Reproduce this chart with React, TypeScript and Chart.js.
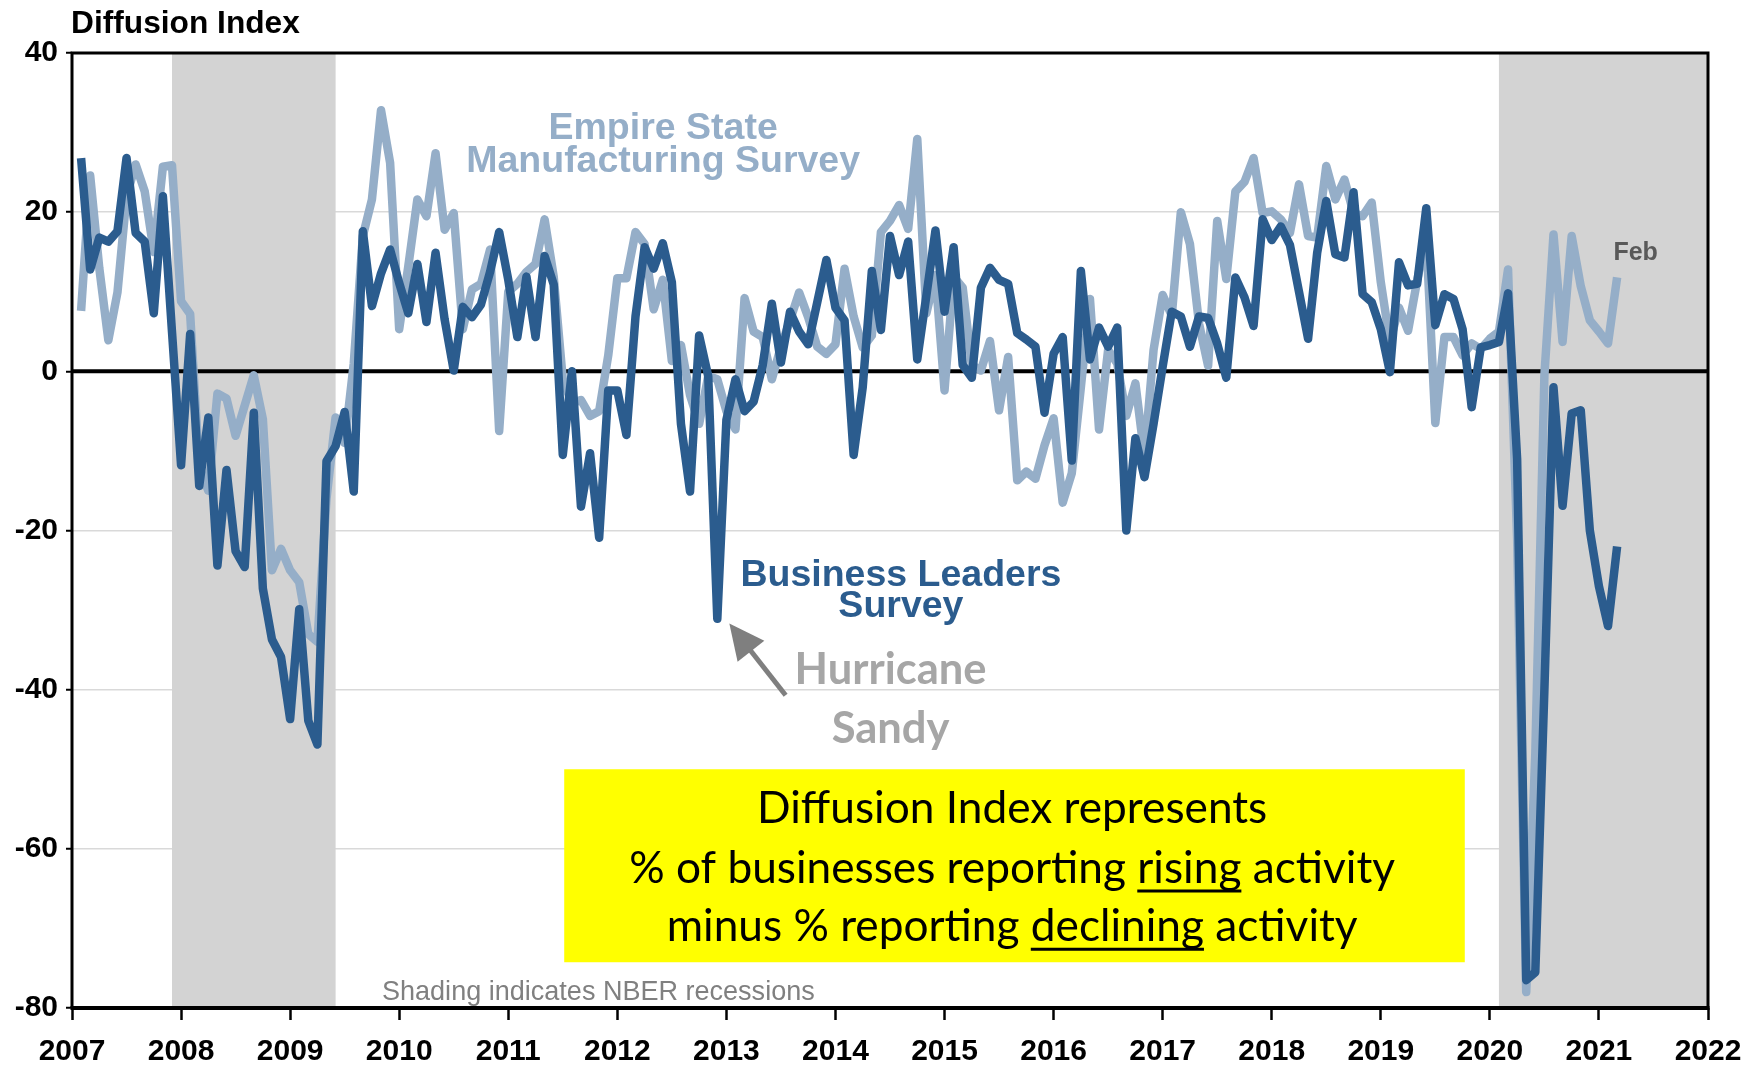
import React, { useEffect, useRef } from "react";
import { Chart, registerables } from "chart.js";

Chart.register(...registerables);

// ---------- DATA ----------
const START_YEAR = 2007; // first month = Jan 2007, monthly through Feb 2021
const X_MIN = 2007;
const X_MAX = 2022;
const X_STEP = 1;
const Y_MIN = -80;
const Y_MAX = 40;
const Y_STEP = 20;

// Business Leaders Survey (dark blue), monthly Jan 2007 - Feb 2021
const businessLeaders = [
  26.8, 12.8, 16.8, 16.3, 17.6, 26.8, 17.4, 16.3, 7.3, 22.0, 5.0, -11.8,
  4.7, -14.4, -5.8, -24.4, -12.4, -22.6, -24.6, -5.2, -27.3, -33.7, -35.9, -43.7,
  -29.9, -43.9, -46.9, -11.3, -9.4, -5.1, -15.1, 17.6, 8.2, 12.3, 15.3, 11.1,
  7.3, 13.5, 6.2, 14.9, 6.5, 0.1, 8.1, 6.8, 8.4, 12.5, 17.5, 11.5,
  4.3, 11.9, 4.3, 14.5, 10.9, -10.5, 0.0, -17.0, -10.3, -20.9, -2.4, -2.4,
  -8.0, 6.9, 15.6, 12.9, 16.1, 11.2, -6.6, -15.1, 4.5, -0.6, -31.1, -6.1,
  -1.0, -5.0, -3.8, 0.8, 8.5, 1.1, 7.5, 5.0, 3.4, 8.7, 14.0, 8.0,
  6.4, -10.5, -2.0, 12.6, 5.2, 17.0, 12.1, 16.3, 1.5, 9.5, 17.7, 7.5,
  15.6, 0.8, -0.8, 10.5, 13.0, 11.5, 11.0, 4.8, 4.0, 3.1, -5.2, 2.2,
  4.3, -11.2, 12.6, 1.5, 5.5, 3.1, 5.5, -20.0, -8.4, -13.3, -6.6, 0.6,
  7.5, 6.9, 3.1, 6.9, 6.7, 3.5, -0.8, 11.8, 9.3, 5.7, 19.1, 16.5,
  18.2, 15.9, 10.0, 4.1, 14.9, 21.4, 14.7, 14.3, 22.5, 9.7, 8.7, 5.3,
  -0.1, 13.7, 10.8, 11.0, 20.5, 5.8, 9.7, 9.1, 5.3, -4.5, 3.0, 3.3,
  3.7, 9.8, -11.0, -76.5, -75.5, -40.0, -2.0, -16.9, -5.3, -4.9, -20.0, -27.0,
  -32.0, -22.0,
];

// Empire State Manufacturing Survey (light blue), monthly Jan 2007 - Feb 2021
const empireState = [
  7.6, 24.6, 13.0, 3.9, 9.9, 22.0, 26.0, 22.6, 15.0, 25.7, 25.9, 8.8,
  7.2, -12.0, -15.0, -2.8, -3.4, -8.1, -4.3, -0.5, -6.0, -25.0, -22.3, -25.0,
  -26.5, -33.0, -34.0, -16.0, -5.8, -9.0, 1.0, 17.0, 21.6, 32.8, 26.2, 5.3,
  13.2, 21.6, 19.5, 27.4, 17.8, 19.9, 5.3, 10.3, 11.0, 15.3, -7.5, 10.0,
  11.0, 12.5, 13.5, 19.1, 11.9, -1.0, -4.0, -3.6, -5.6, -5.0, 2.0, 11.7,
  11.7, 17.5, 16.0, 7.8, 11.5, 1.3, 3.3, -3.0, -6.6, -0.6, -1.0, -5.0,
  -7.3, 9.2, 5.0, 4.3, -1.0, 3.1, 6.4, 9.9, 6.8, 3.1, 2.2, 3.4,
  12.9, 6.9, 3.0, 4.5, 17.5, 18.9, 20.9, 17.9, 29.2, 7.3, 12.1, -2.4,
  11.9, 10.5, 0.8, 0.1, 3.8, -4.9, 1.8, -13.7, -12.6, -13.5, -9.3, -5.9,
  -16.5, -12.8, -2.0, 9.1, -7.3, 2.7, 1.0, -5.6, -1.5, -10.7, 2.7, 9.6,
  7.0, 20.0, 16.0, 6.0, 0.7, 18.9, 11.6, 22.6, 23.8, 26.8, 19.9, 20.1,
  19.1, 17.4, 23.5, 17.0, 16.8, 25.8, 21.6, 24.1, 19.9, 19.5, 21.2, 11.2,
  3.7, 8.0, 5.1, 11.4, 17.0, -6.5, 4.3, 4.3, 2.0, 3.5, 2.8, 4.1,
  5.0, 12.8, -21.0, -78.0, -48.0, -0.5, 17.2, 3.7, 17.0, 10.7, 6.4, 5.0,
  3.5, 11.8,
];

// NBER recessions (decimal years)
const recessionStarts = [2007.917, 2020.083];
const recessionEnds = [2009.417, 2022];

// ---------- STYLE ----------
const DARK = "#2B5C8E";
const LIGHT = "#95AEC8";
const SHADE = "#D3D3D3";
const GRID = "#D9D9D9";
const ARIAL = "'Liberation Sans', Arial, sans-serif";
const NARROW = "'Liberation Sans Narrow', 'Liberation Sans', Arial, sans-serif";
const CALIBRI = "Lato, 'Open Sans', sans-serif";
const LINE_W = 8.5;

const monthToYear = (i: number) => START_YEAR + (i + 1) / 12;

function fitFont(ctx: CanvasRenderingContext2D, text: string, weight: string, family: string, target: number) {
  ctx.font = `${weight} 100px ${family}`;
  const w = ctx.measureText(text).width;
  const size = (100 * target) / w;
  ctx.font = `${weight} ${size}px ${family}`;
  return size;
}

const annotationPlugin = {
  id: "diffusionAnnotations",
  beforeDatasetsDraw(chart: any) {
    const { ctx, chartArea: a, scales } = chart;
    const x = scales.x;
    const y = scales.y;
    ctx.save();
    ctx.fillStyle = SHADE;
    recessionStarts.forEach((s, k) => {
      const x0 = x.getPixelForValue(s);
      const x1 = Math.min(x.getPixelForValue(recessionEnds[k]), a.right);
      ctx.fillRect(x0, a.top, x1 - x0, a.bottom - a.top);
    });
    const y0 = y.getPixelForValue(0);
    ctx.strokeStyle = "#000";
    ctx.lineWidth = 4;
    ctx.beginPath();
    ctx.moveTo(a.left, y0);
    ctx.lineTo(a.right, y0);
    ctx.stroke();
    ctx.restore();
  },
  afterDatasetsDraw(chart: any) {
    const { ctx, chartArea: a, scales } = chart;
    const px = (v: number) => scales.x.getPixelForValue(v);
    const py = (v: number) => scales.y.getPixelForValue(v);
    ctx.save();

    // frame
    ctx.strokeStyle = "#000";
    ctx.lineWidth = 3;
    ctx.beginPath();
    ctx.moveTo(a.left, a.bottom);
    ctx.lineTo(a.left, a.top);
    ctx.lineTo(a.right, a.top);
    ctx.lineTo(a.right, a.bottom);
    ctx.stroke();
    ctx.lineWidth = 4;
    ctx.beginPath();
    ctx.moveTo(a.left - 1.5, a.bottom);
    ctx.lineTo(a.right + 1.5, a.bottom);
    ctx.stroke();

    // title
    ctx.fillStyle = "#000";
    ctx.textAlign = "left";
    ctx.textBaseline = "alphabetic";
    fitFont(ctx, "Diffusion Index", "bold", ARIAL, 229);
    ctx.fillText("Diffusion Index", a.left - 1, a.top - 20);

    // series labels
    ctx.textAlign = "center";
    ctx.fillStyle = LIGHT;
    ctx.font = `bold 37.5px ${ARIAL}`;
    ctx.fillText("Empire State", px(2012.42), py(29.2));
    ctx.fillText("Manufacturing Survey", px(2012.42), py(25.1));

    ctx.fillStyle = DARK;
    ctx.fillText("Business Leaders", px(2014.6), py(-27.0));
    ctx.fillText("Survey", px(2014.6), py(-30.9));

    // Hurricane Sandy
    ctx.fillStyle = "#A6A6A6";
    fitFont(ctx, "Hurricane", "bold", CALIBRI, 192);
    ctx.fillText("Hurricane", px(2014.505), py(-39.3));
    ctx.fillText("Sandy", px(2014.505), py(-46.7));

    // arrow
    const tail = { x: px(2013.543), y: py(-40.7) };
    const tip = { x: px(2013.027), y: py(-31.7) };
    const dx = tip.x - tail.x;
    const dy = tip.y - tail.y;
    const len = Math.hypot(dx, dy);
    const ux = dx / len;
    const uy = dy / len;
    const headLen = 35;
    const headHalf = 17;
    const bx = tip.x - ux * headLen;
    const by = tip.y - uy * headLen;
    ctx.strokeStyle = "#7F7F7F";
    ctx.fillStyle = "#7F7F7F";
    ctx.lineWidth = 5;
    ctx.beginPath();
    ctx.moveTo(tail.x, tail.y);
    ctx.lineTo(bx + ux * 2, by + uy * 2);
    ctx.stroke();
    ctx.beginPath();
    ctx.moveTo(tip.x, tip.y);
    ctx.lineTo(bx - uy * headHalf, by + ux * headHalf);
    ctx.lineTo(bx + uy * headHalf, by - ux * headHalf);
    ctx.closePath();
    ctx.fill();

    // Feb label
    ctx.fillStyle = "#595959";
    ctx.textAlign = "left";
    ctx.textBaseline = "middle";
    ctx.font = `bold 25px ${ARIAL}`;
    ctx.fillText("Feb", px(2021.133), py(14.8));

    // shading note
    ctx.textAlign = "center";
    ctx.textBaseline = "alphabetic";
    ctx.fillStyle = "#808080";
    fitFont(ctx, "Shading indicates NBER recessions", "normal", NARROW, 433);
    ctx.fillText("Shading indicates NBER recessions", px(2011.826), py(-79.0));

    // yellow box
    const bx0 = px(2011.513);
    const bx1 = px(2019.77);
    const by0 = py(-50);
    const by1 = py(-74.25);
    ctx.fillStyle = "#FFFF00";
    ctx.fillRect(bx0, by0, bx1 - bx0, by1 - by0);

    const cx = px(2015.62);
    ctx.fillStyle = "#000";
    ctx.strokeStyle = "#000";
    const l2a = "% of businesses reporting ";
    const l2b = "rising";
    const l2c = " activity";
    const l3a = "minus % reporting ";
    const l3b = "declining";
    const l3c = " activity";
    fitFont(ctx, l2a + l2b + l2c, "normal", CALIBRI, 766);
    ctx.textAlign = "center";
    const b1 = py(-56.75);
    const b2 = py(-64.3);
    const b3 = py(-71.6);
    ctx.fillText("Diffusion Index represents", cx, b1);
    ctx.fillText(l2a + l2b + l2c, cx, b2);
    ctx.fillText(l3a + l3b + l3c, cx, b3);
    ctx.lineWidth = 3;
    const underline = (a1: string, bb: string, c1: string, base: number) => {
      const w = ctx.measureText(a1 + bb + c1).width;
      const start = cx - w / 2 + ctx.measureText(a1).width;
      const ww = ctx.measureText(bb).width;
      ctx.beginPath();
      ctx.moveTo(start, base + 8);
      ctx.lineTo(start + ww, base + 8);
      ctx.stroke();
    };
    underline(l2a, l2b, l2c, b2);
    underline(l3a, l3b, l3c, b3);

    ctx.restore();
  },
};

export default function App() {
  const canvasRef = useRef<HTMLCanvasElement | null>(null);

  useEffect(() => {
    if (!canvasRef.current) return;
    const darkPoints = businessLeaders.map((v, i) => ({ x: monthToYear(i), y: v }));
    const lightPoints = empireState.map((v, i) => ({ x: monthToYear(i), y: v }));

    const chart = new Chart(canvasRef.current, {
      type: "line",
      data: {
        datasets: [
          {
            label: "Business Leaders Survey",
            data: darkPoints,
            borderColor: DARK,
            backgroundColor: DARK,
            borderWidth: LINE_W,
            pointRadius: 0,
            tension: 0,
            fill: false,
            borderJoinStyle: "round",
            borderCapStyle: "butt",
          },
          {
            label: "Empire State Manufacturing Survey",
            data: lightPoints,
            borderColor: LIGHT,
            backgroundColor: LIGHT,
            borderWidth: LINE_W,
            pointRadius: 0,
            tension: 0,
            fill: false,
            borderJoinStyle: "round",
            borderCapStyle: "butt",
          },
        ],
      },
      options: {
        responsive: false,
        animation: false,
        devicePixelRatio: 1,
        layout: { padding: { top: 53, right: 50, left: 0, bottom: 0 } },
        plugins: {
          legend: { display: false },
          tooltip: { enabled: false },
          title: { display: false },
        },
        scales: {
          x: {
            type: "linear",
            min: X_MIN,
            max: X_MAX,
            afterFit: (s: any) => {
              s.height = 60;
            },
            ticks: {
              stepSize: X_STEP,
              autoSkip: false,
              maxRotation: 0,
              padding: 14,
              color: "#000",
              font: { family: ARIAL, size: 30, weight: "bold" },
              callback: (v: any) => String(Math.round(Number(v))),
            },
            grid: {
              drawOnChartArea: false,
              drawTicks: true,
              tickLength: 12,
              tickColor: "#000",
              tickWidth: 2.5,
            },
            border: { display: false },
          },
          y: {
            type: "linear",
            min: Y_MIN,
            max: Y_MAX,
            afterFit: (s: any) => {
              s.width = 72;
            },
            ticks: {
              stepSize: Y_STEP,
              padding: 8,
              color: "#000",
              font: { family: ARIAL, size: 30, weight: "bold" },
              callback: (v: any) => String(Math.round(Number(v))),
            },
            grid: {
              color: (c: any) => (c.tick && c.tick.value === 0 ? "#000" : GRID),
              lineWidth: 1.5,
              drawTicks: true,
              tickLength: 6,
              tickColor: "#000",
              tickWidth: 2,
            },
            border: { display: false },
          },
        },
      },
      plugins: [annotationPlugin],
    } as any);

    return () => chart.destroy();
  }, []);

  return (
    <div
      style={{
        position: "absolute",
        left: 0,
        top: 0,
        width: 1758,
        height: 1068,
        background: "#fff",
        overflow: "hidden",
      }}
    >
      <canvas ref={canvasRef} width={1758} height={1068} style={{ display: "block", width: 1758, height: 1068 }} />
    </div>
  );
}
